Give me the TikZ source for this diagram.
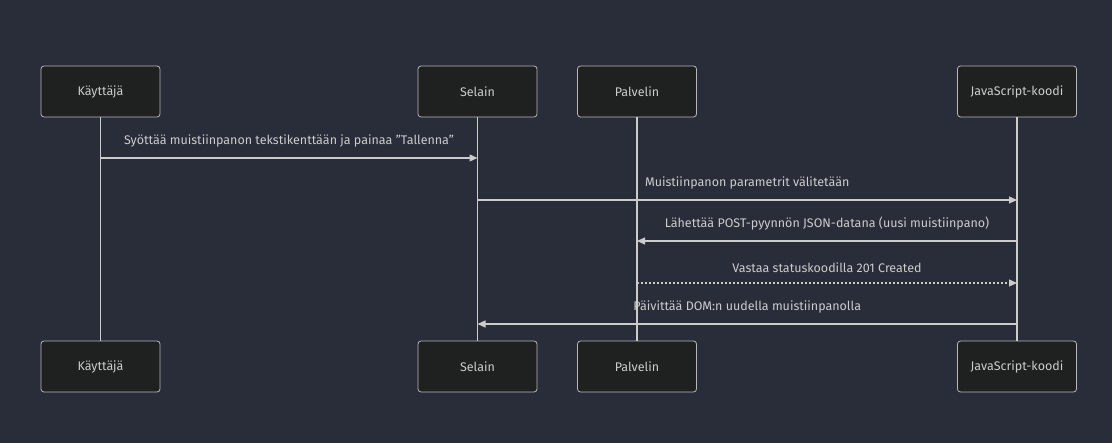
\documentclass[tikz,border=0pt]{standalone}
\usepackage{fontspec}
\setmainfont{Fira Sans}
\usetikzlibrary{positioning, arrows.meta}

\definecolor{bgcol}{HTML}{292D39}
\definecolor{boxfill}{HTML}{1F2020}
\definecolor{boxline}{HTML}{B8B8B8}
\definecolor{linecol}{HTML}{CCCCCC}
\definecolor{txtcol}{HTML}{CCCCCC}

\begin{document}
\begin{tikzpicture}[x=1pt, y=-1pt,
        actor/.style={rectangle, draw=boxline, fill=boxfill, line width=0.8pt, rounded corners=3pt, minimum width=119pt, minimum height=51pt, text=txtcol, font=\fontsize{12.5}{14}\selectfont},
        life/.style={linecol, line width=1.2pt},
        msg/.style={-{Triangle[length=8pt, width=7pt]}, linecol, line width=1.2pt},
        reply/.style={msg, dash pattern=on 2pt off 2pt},
        lbl/.style={text=txtcol, font=\fontsize{12.5}{14}\selectfont, inner sep=0pt}
    ]
        % Background
        \fill[bgcol] (0,0) rectangle (1112,443);
        \useasboundingbox (0,0) rectangle (1112,443);

        % Participants (top)
        \node[actor] (kay) at (100.5, 91.5) {Käyttäjä};
        \node[actor] (sel) at (477.5, 91.5) {Selain};
        \node[actor] (pal) at (637, 91.5) {Palvelin};
        \node[actor] (js) at (1017, 91.5) {JavaScript-koodi};

        % Participants (bottom)
        \node[actor] (kayb) at (100.5, 366.5) {Käyttäjä};
        \node[actor] (selb) at (477.5, 366.5) {Selain};
        \node[actor] (palb) at (637, 366.5) {Palvelin};
        \node[actor] (jsb) at (1017, 366.5) {JavaScript-koodi};

        % Lifelines
        \draw[life] (kay) -- (kayb);
        \draw[life] (sel) -- (selb);
        \draw[life] (pal) -- (palb);
        \draw[life] (js) -- (jsb);

        % Messages
        \draw[msg] (kay |- 0,158) -- node[lbl, above=10pt] {Syöttää muistiinpanon tekstikenttään ja painaa "Tallenna"} (sel |- 0,158);
        \draw[msg] (sel |- 0,200) -- node[lbl, above=10pt] {Muistiinpanon parametrit välitetään} (js |- 0,200);
        \draw[msg] (js |- 0,241) -- node[lbl, above=10pt] {Lähettää POST-pyynnön JSON-datana (uusi muistiinpano)} (pal |- 0,241);
        \draw[reply] (pal |- 0,283) -- node[lbl, above=10pt] {Vastaa statuskoodilla 201 Created} (js |- 0,283);
        \draw[msg] (js |- 0,324) -- node[lbl, above=10pt] {Päivittää DOM:n uudella muistiinpanolla} (sel |- 0,324);

    \end{tikzpicture}
\end{document}
